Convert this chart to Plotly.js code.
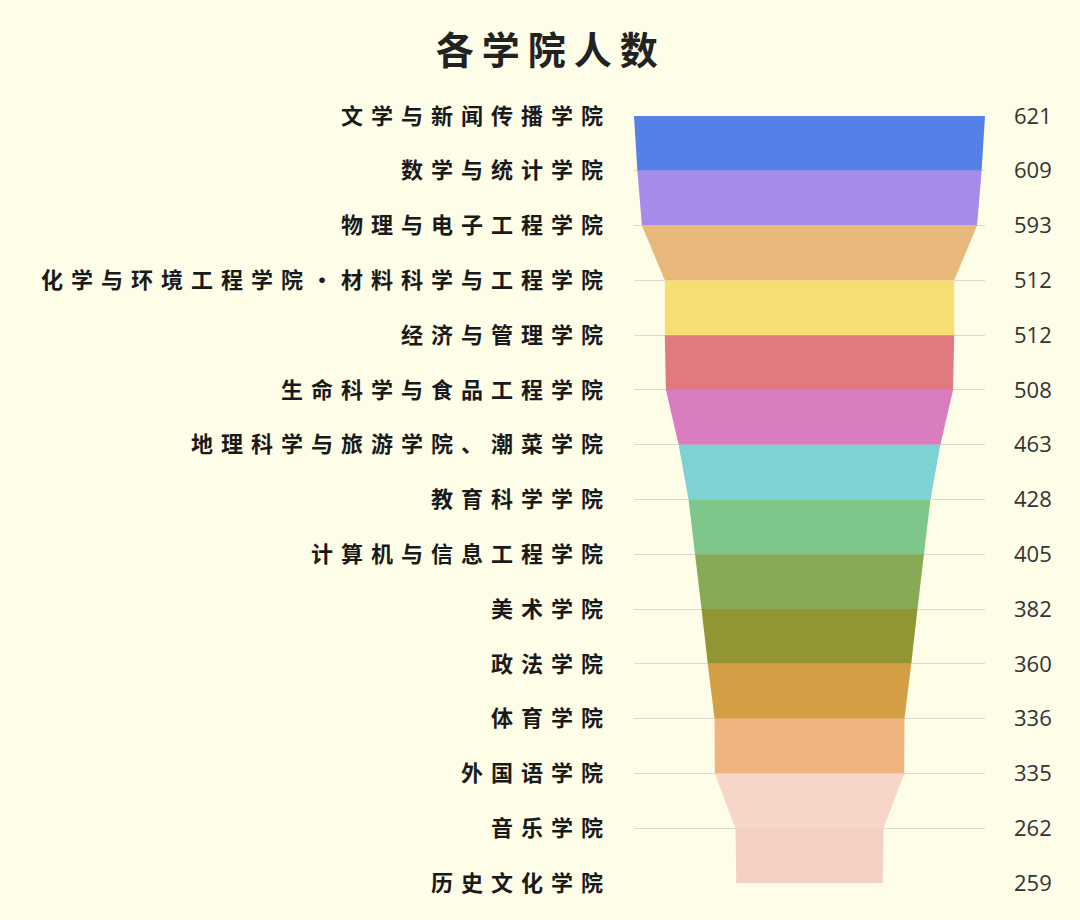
<!DOCTYPE html>
<html>
<head>
<meta charset="utf-8">
<script src="https://cdn.plot.ly/plotly-3.0.1.min.js"></script>
<style>
  body { margin: 0; background: #fefde8; }
  #chart { width: 1080px; height: 920px; }
  .yaxislayer-above .ytick text { letter-spacing: 8px; }
  .yaxislayer-above .y2tick text { letter-spacing: 3px; }
  .gtitle { letter-spacing: 8px; }
</style>
</head>
<body>
<div id="chart"></div>
<script>
var colleges = [
  "文学与新闻传播学院",
  "数学与统计学院",
  "物理与电子工程学院",
  "化学与环境工程学院·材料科学与工程学院",
  "经济与管理学院",
  "生命科学与食品工程学院",
  "地理科学与旅游学院、潮菜学院",
  "教育科学学院",
  "计算机与信息工程学院",
  "美术学院",
  "政法学院",
  "体育学院",
  "外国语学院",
  "音乐学院",
  "历史文化学院"
]
var counts = [621, 609, 593, 512, 512, 508, 463, 428, 405, 382, 360, 336, 335, 262, 259]
var bandColors = [
  "#5580e8", "#a78beb", "#e8b97a", "#f7de73", "#e07a80", "#da7dc0", "#7dd2d3",
  "#7ec68a", "#86aa55", "#939532", "#d49e45", "#f2b47e", "#f7d5c8", "#f4cfc3"
]

var idx = colleges.map(function (c, i) { return i })
var data = []
// one filled band between each pair of neighbouring colleges
for (var i = 0; i < counts.length - 1; i++) {
  var a = counts[i] / 2, b = counts[i + 1] / 2
  data.push({
    type: "scatter",
    mode: "lines",
    x: [-a, a, b, -b, -a],
    y: [i, i, i + 1, i + 1, i],
    fill: "toself",
    fillcolor: bandColors[i],
    line: { width: 0, color: bandColors[i] },
    hoverinfo: "skip",
    showlegend: false
  })
}
// invisible trace so the right axis carries the counts
data.push({
  type: "scatter",
  mode: "markers",
  x: counts.map(function () { return 0 }),
  y: idx,
  yaxis: "y2",
  marker: { opacity: 0 },
  hoverinfo: "skip",
  showlegend: false
})

var layout = {
  width: 1080,
  height: 920,
  paper_bgcolor: "#fefde8",
  plot_bgcolor: "#fefde8",
  margin: { l: 634, r: 95, t: 116, b: 37 },
  title: {
    text: "各学院人数",
    x: 0.51,
    xanchor: "center",
    y: 0.945,
    yref: "container",
    yanchor: "middle",
    font: { family: "Noto Sans CJK SC", size: 38, color: "#222", weight: "bold" }
  },
  xaxis: {
    range: [-counts[0] / 2, counts[0] / 2],
    showgrid: false,
    zeroline: false,
    showticklabels: false,
    fixedrange: true
  },
  yaxis: {
    range: [counts.length - 1, 0],
    tickvals: idx,
    ticktext: colleges,
    showgrid: true,
    gridcolor: "#d9d9cc",
    gridwidth: 1,
    zeroline: false,
    ticks: "",
    ticklabelstandoff: 22,
    tickfont: { family: "Noto Sans CJK SC", size: 22, color: "#1a1a1a", weight: "bold" }
  },
  yaxis2: {
    overlaying: "y",
    side: "right",
    range: [counts.length - 1, 0],
    tickvals: idx,
    ticktext: counts.map(String),
    showgrid: false,
    zeroline: false,
    ticks: "",
    ticklabelstandoff: 28,
    tickfont: { family: "Open Sans", size: 22, color: "#333" }
  }
}

Plotly.newPlot("chart", data, layout, { displayModeBar: false, staticPlot: true })
</script>
</body>
</html>
